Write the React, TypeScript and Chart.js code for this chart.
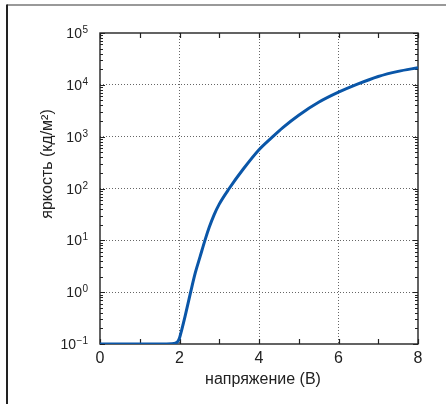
import React, { useEffect, useRef } from 'react';
import { Chart, registerables } from 'chart.js';

Chart.register(...registerables);

const voltage = [0, 0.5, 1, 1.5, 1.8, 1.9, 1.96, 2.0, 2.05, 2.14, 2.28, 2.4, 2.52, 2.64, 2.75, 2.87, 3.0, 3.25, 3.6, 4.0, 4.32, 4.6, 5.0, 5.5, 6.0, 6.46, 7.0, 7.5, 8.0];
const luminance = [0.1, 0.1, 0.1, 0.1, 0.101, 0.104, 0.112, 0.13, 0.18, 0.34, 1, 2.4, 4.9, 10, 18, 31, 50, 100, 235, 560, 960, 1500, 2600, 4600, 7200, 10200, 14500, 18200, 21400];

const xTicks = [0, 1, 2, 3, 4, 5, 6, 7, 8];
const xLabels = ['0', '', '2', '', '4', '', '6', '', '8'];
const yDecades = [0.1, 1, 10, 100, 1000, 10000, 100000];
const yExponents = ['−1', '0', '1', '2', '3', '4', '5'];

const xTitle = 'напряжение (В)';
const yTitle = 'яркость (кд/м²)';

const FONT = '"Liberation Sans", Arial, Helvetica, sans-serif';

const decorPlugin = {
  id: 'decor',
  beforeDraw(chart: any) {
    const ctx = chart.ctx;
    ctx.save();
    ctx.strokeStyle = '#777';
    ctx.lineWidth = 1.5;
    ctx.beginPath();
    ctx.moveTo(7, 5);
    ctx.lineTo(446, 5);
    ctx.stroke();
    ctx.strokeStyle = '#222';
    ctx.lineWidth = 2;
    ctx.beginPath();
    ctx.moveTo(7, 4.5);
    ctx.lineTo(7, 404);
    ctx.stroke();
    ctx.restore();
  },
  beforeDatasetsDraw(chart: any) {
    const ctx = chart.ctx;
    const { left, right, top, bottom } = chart.chartArea;
    const xs = chart.scales.x;
    const ys = chart.scales.y;
    ctx.save();
    ctx.strokeStyle = '#222';
    ctx.lineWidth = 1.4;
    ctx.strokeRect(left, top, right - left, bottom - top);
    ctx.lineWidth = 1.2;
    ctx.beginPath();
    xTicks.forEach((v) => {
      const px = Math.round(xs.getPixelForValue(v)) + 0.5;
      ctx.moveTo(px, bottom);
      ctx.lineTo(px, bottom - 5);
      ctx.moveTo(px, top);
      ctx.lineTo(px, top + 5);
    });
    yDecades.forEach((d, i) => {
      const py = Math.round(ys.getPixelForValue(d)) + 0.5;
      ctx.moveTo(left, py);
      ctx.lineTo(left + 5, py);
      ctx.moveTo(right, py);
      ctx.lineTo(right - 5, py);
      if (i < yDecades.length - 1) {
        for (let m = 2; m <= 9; m++) {
          const pm = Math.round(ys.getPixelForValue(d * m)) + 0.5;
          ctx.moveTo(left, pm);
          ctx.lineTo(left + 3, pm);
          ctx.moveTo(right, pm);
          ctx.lineTo(right - 3, pm);
        }
      }
    });
    ctx.stroke();
    ctx.restore();
  },
  afterDraw(chart: any) {
    const ctx = chart.ctx;
    const { left, right } = chart.chartArea;
    const ys = chart.scales.y;
    ctx.save();
    ctx.fillStyle = '#222';
    const rightEdge = left - 12;
    yDecades.forEach((d, i) => {
      const py = ys.getPixelForValue(d);
      ctx.font = `10px ${FONT}`;
      ctx.textBaseline = 'alphabetic';
      ctx.textAlign = 'right';
      const ew = ctx.measureText(yExponents[i]).width;
      ctx.fillText(yExponents[i], rightEdge, py);
      ctx.font = `14px ${FONT}`;
      ctx.fillText('10', rightEdge - ew - 0.5, py + 5);
    });
    ctx.font = `16px ${FONT}`;
    ctx.textAlign = 'center';
    ctx.textBaseline = 'middle';
    ctx.fillText(xTitle, (left + right) / 2 + 4, 380);
    ctx.translate(48, 164);
    ctx.rotate(-Math.PI / 2);
    ctx.fillText(yTitle, 0, 0);
    ctx.restore();
  },
};

export default function App() {
  const ref = useRef<HTMLCanvasElement | null>(null);
  useEffect(() => {
    if (!ref.current) return;
    const chart = new Chart(ref.current, {
      type: 'line',
      data: {
        datasets: [
          {
            data: voltage.map((v, i) => ({ x: v, y: luminance[i] })),
            borderColor: '#0a56a8',
            borderWidth: 3,
            pointRadius: 0,
            cubicInterpolationMode: 'monotone',
            fill: false,
          },
        ],
      },
      options: {
        animation: false,
        responsive: false,
        devicePixelRatio: 1,
        layout: { padding: { top: 33, right: 28, left: 0, bottom: 0 } },
        plugins: { legend: { display: false }, tooltip: { enabled: false } },
        scales: {
          x: {
            type: 'linear',
            min: 0,
            max: 8,
            afterBuildTicks: (s: any) => {
              s.ticks = xTicks.map((v) => ({ value: v }));
            },
            afterFit: (s: any) => {
              s.height = 60;
            },
            ticks: {
              autoSkip: false,
              maxRotation: 0,
              padding: 5,
              color: '#222',
              font: { family: FONT, size: 16 },
              callback: (_v: any, i: number) => xLabels[i],
            },
            grid: {
              drawTicks: false,
              tickLength: 0,
              lineWidth: 1,
              color: (c: any) => {
                const v = c.tick ? c.tick.value : null;
                if (v === null || v % 2 !== 0 || v === 0 || v === 8) return 'rgba(0,0,0,0)';
                return '#666';
              },
            },
            border: { display: false, dash: [1, 2] },
          },
          y: {
            type: 'logarithmic',
            min: 0.1,
            max: 100000,
            afterBuildTicks: (s: any) => {
              s.ticks = yDecades.map((v) => ({ value: v }));
            },
            afterFit: (s: any) => {
              s.width = 100;
            },
            ticks: { display: false },
            grid: {
              drawTicks: false,
              tickLength: 0,
              lineWidth: 1,
              color: (c: any) => {
                const v = c.tick ? c.tick.value : null;
                if (v === null || v === 0.1 || v === 100000) return 'rgba(0,0,0,0)';
                return '#666';
              },
            },
            border: { display: false, dash: [1, 2] },
          },
        },
      },
      plugins: [decorPlugin],
    } as any);
    return () => chart.destroy();
  }, []);
  return (
    <div style={{ position: 'absolute', left: 0, top: 0, width: 446, height: 404, background: '#fff' }}>
      <canvas ref={ref} width={446} height={404} style={{ display: 'block', width: 446, height: 404 }} />
    </div>
  );
}
